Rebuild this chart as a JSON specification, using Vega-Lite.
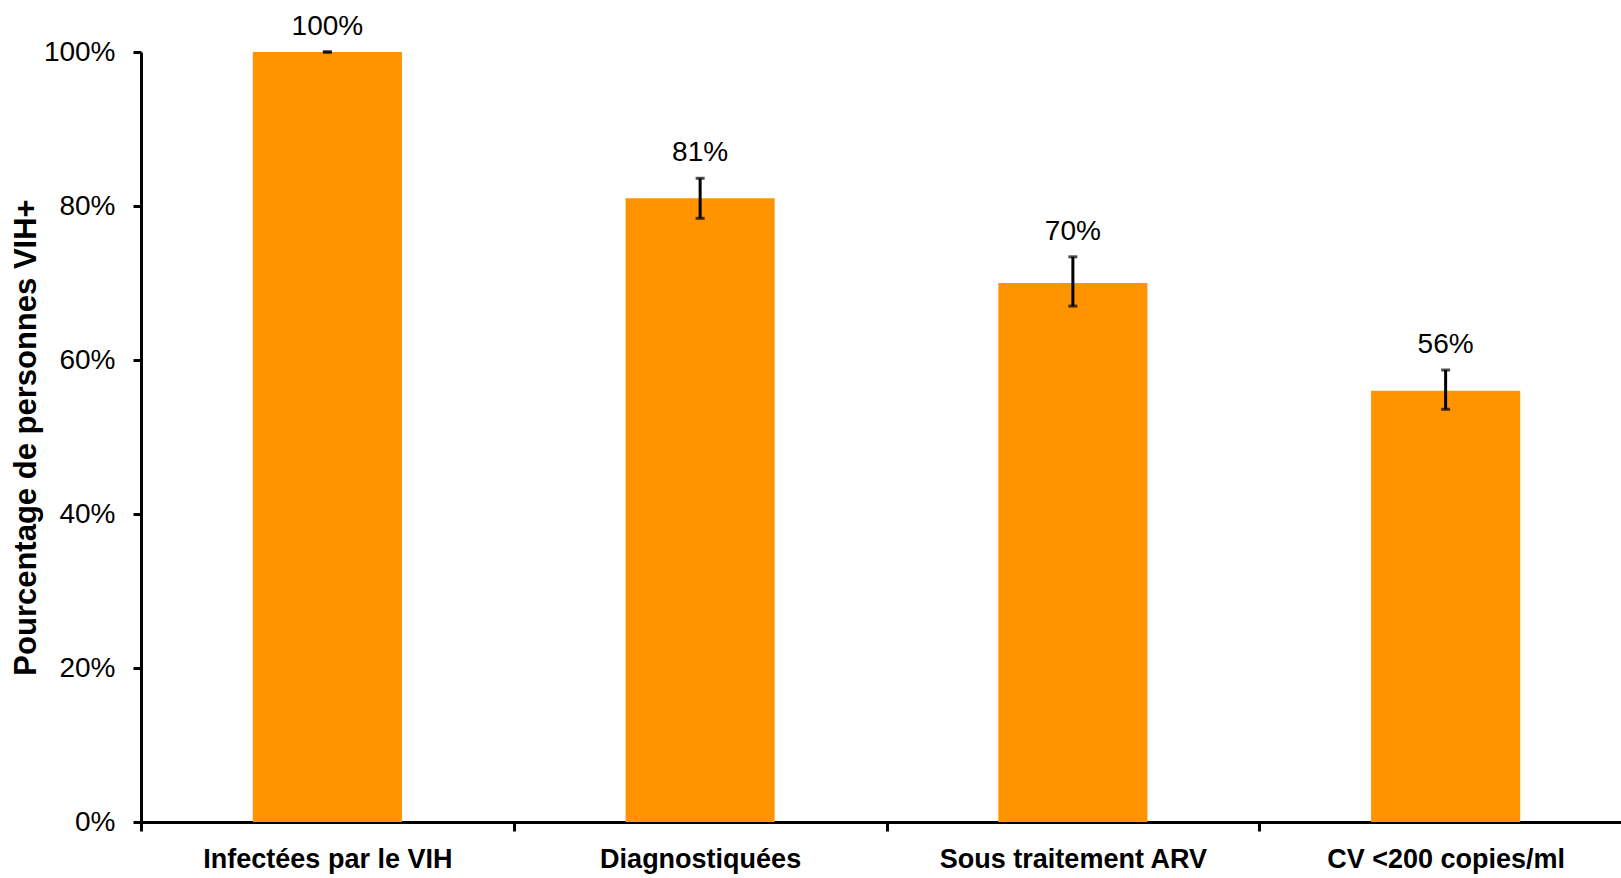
{
  "$schema": "https://vega.github.io/schema/vega-lite/v6.json",
  "autosize": {"type": "none"},
  "padding": {"left": 141, "top": 52, "right": 0, "bottom": 56},
  "width": 1480,
  "height": 770,
  "background": "white",
  "config": {"view": {"stroke": null}, "font": "Liberation Sans"},
  "data": {"values": [
    {"etape": "Infectées par le VIH", "value": 1.0, "lower": 1.0, "upper": 1.0},
    {"etape": "Diagnostiquées", "value": 0.81, "lower": 0.784, "upper": 0.836},
    {"etape": "Sous traitement ARV", "value": 0.70, "lower": 0.670, "upper": 0.734},
    {"etape": "CV <200 copies/ml", "value": 0.56, "lower": 0.536, "upper": 0.587}
  ]},
  "encoding": {
    "x": {
      "field": "etape", "type": "nominal", "sort": null,
      "scale": {"paddingInner": 0, "paddingOuter": 0, "range": [0, 1491]},
      "axis": {
        "title": null, "labelAngle": 0, "tickBand": "extent", "labelLimit": 0,
        "domainColor": "black", "domainWidth": 3,
        "tickColor": "black", "tickWidth": 3, "tickSize": 9,
        "labelFont": "Liberation Sans", "labelFontSize": 27, "labelFontWeight": "bold",
        "labelColor": "black", "labelBaseline": "alphabetic", "labelPadding": 36
      }
    }
  },
  "layer": [
    {
      "mark": {"type": "bar", "width": {"band": 0.4}, "color": "#FF9300"},
      "encoding": {
        "y": {
          "field": "value", "type": "quantitative",
          "scale": {"domain": [0, 1], "nice": false},
          "axis": {
            "title": "Pourcentage de personnes VIH+",
            "values": [0, 0.2, 0.4, 0.6, 0.8, 1.0], "format": ".0%",
            "grid": false,
            "domainColor": "black", "domainWidth": 3,
            "tickColor": "black", "tickWidth": 3, "tickSize": 8,
            "labelFont": "Liberation Sans", "labelFontSize": 28, "labelColor": "black",
            "labelPadding": 18,
            "titleFont": "Liberation Sans", "titleFontSize": 31, "titleFontWeight": "bold",
            "titleColor": "black", "titleX": -106, "titleY": 385, "titleAngle": -90,
            "titleAlign": "center", "titleBaseline": "alphabetic"
          }
        }
      }
    },
    {
      "mark": {"type": "rule", "color": "black", "strokeWidth": 3},
      "encoding": {
        "y": {"field": "lower", "type": "quantitative"},
        "y2": {"field": "upper"}
      }
    },
    {
      "mark": {"type": "tick", "color": "black", "size": 9, "thickness": 3},
      "encoding": {"y": {"field": "upper", "type": "quantitative"}}
    },
    {
      "mark": {"type": "tick", "color": "black", "size": 9, "thickness": 3},
      "encoding": {"y": {"field": "lower", "type": "quantitative"}}
    },
    {
      "mark": {"type": "text", "fontSize": 28, "color": "black", "baseline": "alphabetic", "dy": -17, "font": "Liberation Sans"},
      "encoding": {
        "y": {"field": "upper", "type": "quantitative"},
        "text": {"field": "value", "type": "quantitative", "format": ".0%"}
      }
    }
  ]
}
